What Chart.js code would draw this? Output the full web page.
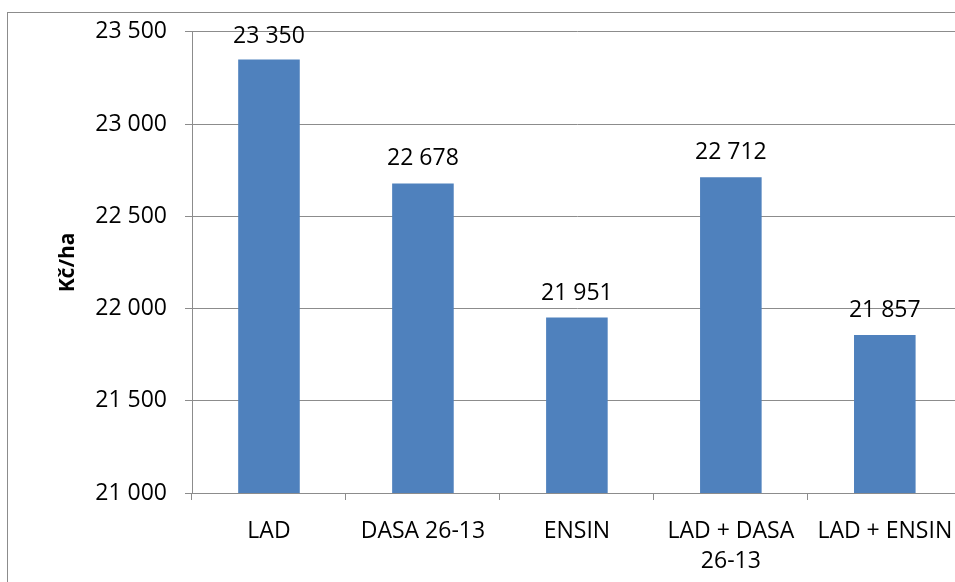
<!DOCTYPE html>
<html lang="cs">
<head>
    <meta charset="UTF-8">
    <title>Kč/ha</title>
    <style>
        html, body {
            margin: 0;
            padding: 0;
            background: #ffffff;
            overflow: hidden;
        }
        .wrap {
            position: absolute;
            left: 0;
            top: 0;
            width: 970px;
            height: 600px;
        }
    </style>
    <script src="https://cdn.jsdelivr.net/npm/chart.js"></script>
</head>
<body>
    <div class="wrap">
        <canvas id="chart" width="970" height="600"></canvas>
    </div>

    <script>
        // data
        const categories = ['LAD', 'DASA 26-13', 'ENSIN', ['LAD + DASA', '26-13'], 'LAD + ENSIN'];
        const values = [23350, 22678, 21951, 22712, 21857];
        const yMin = 21000;
        const yMax = 23500;
        const yStep = 500;
        const yTitle = 'Kč/ha';

        const fontFamily = '"Open Sans", "Liberation Sans", sans-serif';
        const gridColor = '#8c8c8c';

        function fmt(v) {
            // czech style thousands separator
            return String(v).replace(/\B(?=(\d{3})+(?!\d))/g, ' ');
        }

        // outer chart frame, like the office chart border
        const framePlugin = {
            id: 'frame',
            beforeDraw(chart) {
                const ctx = chart.ctx;
                ctx.save();
                ctx.strokeStyle = '#8c8c8c';
                ctx.lineWidth = 1;
                ctx.strokeRect(7.5, 12.5, chart.width + 20, chart.height + 20);
                ctx.restore();
            }
        };

        // value labels above the bars
        const valueLabels = {
            id: 'valueLabels',
            afterDatasetsDraw(chart) {
                const ctx = chart.ctx;
                const meta = chart.getDatasetMeta(0);
                ctx.save();
                ctx.font = '23px ' + fontFamily;
                ctx.fillStyle = '#000000';
                ctx.textAlign = 'center';
                ctx.textBaseline = 'alphabetic';
                meta.data.forEach((bar, i) => {
                    let y = bar.y - 18;
                    if (y < 43) y = 43;
                    ctx.fillText(fmt(values[i]), bar.x, y);
                });
                ctx.restore();
            }
        };

        new Chart(document.getElementById('chart').getContext('2d'), {
            type: 'bar',
            data: {
                labels: categories,
                datasets: [{
                    data: values,
                    backgroundColor: '#4f81bd',
                    borderWidth: 0,
                    categoryPercentage: 1.0,
                    barPercentage: 0.4
                }]
            },
            options: {
                responsive: false,
                animation: false,
                layout: {
                    padding: { top: 29, right: 8, bottom: 0, left: 0 }
                },
                plugins: {
                    legend: { display: false },
                    tooltip: { enabled: false }
                },
                scales: {
                    x: {
                        grid: {
                            display: true,
                            drawOnChartArea: false,
                            offset: true,
                            color: gridColor,
                            tickLength: 7
                        },
                        border: { color: gridColor },
                        ticks: {
                            color: '#000000',
                            padding: 17,
                            maxRotation: 0,
                            autoSkip: false,
                            font: { family: fontFamily, size: 23, lineHeight: 1.3 }
                        },
                        afterFit(scale) {
                            scale.height = 107;
                        }
                    },
                    y: {
                        min: yMin,
                        max: yMax,
                        grid: {
                            color: gridColor,
                            tickLength: 7
                        },
                        border: { color: gridColor },
                        ticks: {
                            stepSize: yStep,
                            color: '#000000',
                            padding: 18,
                            font: { family: fontFamily, size: 23 },
                            callback: v => fmt(v)
                        },
                        title: {
                            display: true,
                            text: yTitle,
                            color: '#000000',
                            padding: { top: 55, bottom: 0 },
                            font: { family: fontFamily, size: 21, weight: 'bold' }
                        },
                        afterFit(scale) {
                            scale.width = 192;
                        }
                    }
                }
            },
            plugins: [framePlugin, valueLabels]
        });
    </script>
</body>
</html>
